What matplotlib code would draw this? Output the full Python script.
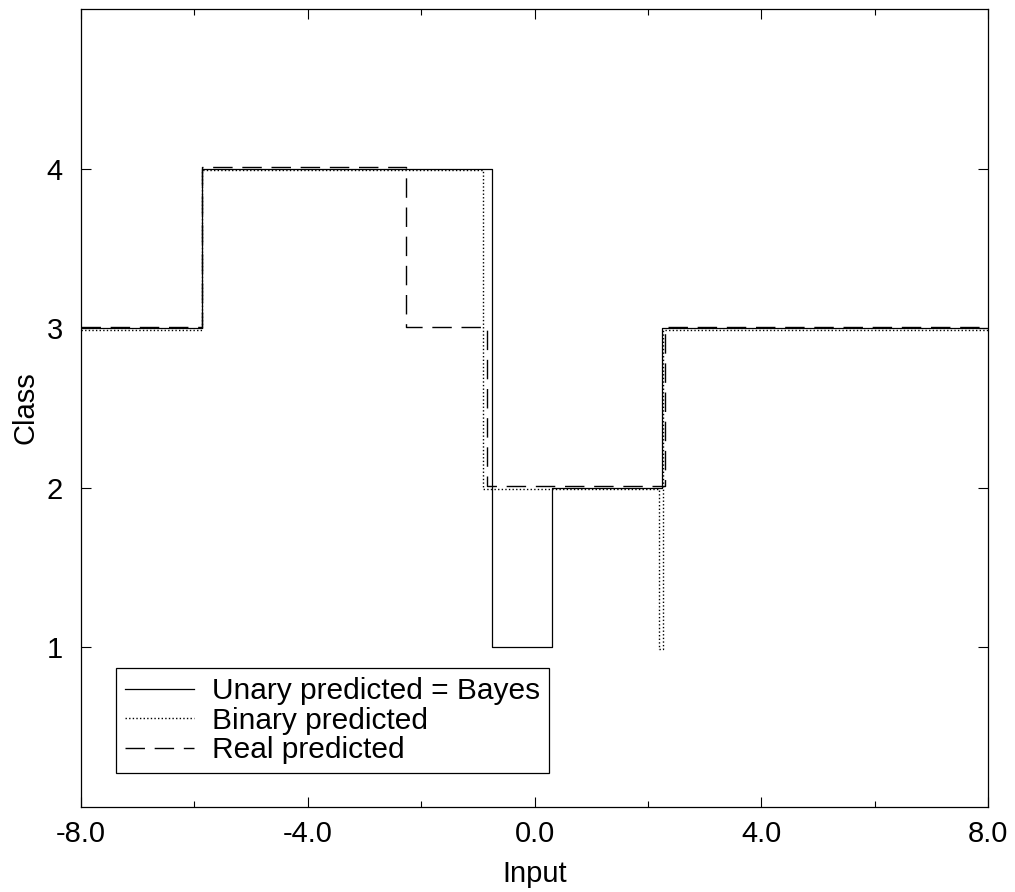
import matplotlib
matplotlib.use("Agg")
from matplotlib import pyplot as plt
from matplotlib.ticker import MultipleLocator, FormatStrFormatter

plt.rcParams['font.family'] = ['Liberation Sans', 'DejaVu Sans']

# breakpoints (left edge of each step) and class level
unary_x = [-8.0, -5.86, -0.75, 0.30, 2.25, 8.0]
unary_class = [3.0, 4.0, 1.0, 2.0, 3.0, 3.0]

binary_x = [-8.0, -5.86, -0.91, 2.20, 2.26, 8.0]
binary_class = [2.99, 3.99, 1.99, 0.99, 2.99, 2.99]

real_x = [-8.0, -5.86, -2.27, -0.83, 2.31, 8.0]
real_class = [3.01, 4.01, 3.01, 2.01, 3.01, 3.01]

xticks = [-8.0, -4.0, 0.0, 4.0, 8.0]
yticks = [1, 2, 3, 4]

fig = plt.figure(figsize=(10.15, 8.92), dpi=100)
ax = fig.add_axes([81/1015, 1 - 807/892, (988-81)/1015, (807-9)/892])

ax.step(unary_x, unary_class, where='post', color='black', lw=0.9,
        label='Unary predicted = Bayes')
ax.step(binary_x, binary_class, where='post', color='black', lw=1.0,
        linestyle=(0, (1, 1.6)), label='Binary predicted')
ax.step(real_x, real_class, where='post', color='black', lw=1.0,
        linestyle=(0, (14, 7)), label='Real predicted')

ax.set_xlim(-8, 8)
ax.set_ylim(0, 5)
ax.set_xticks(xticks)
ax.set_yticks(yticks)
ax.xaxis.set_minor_locator(MultipleLocator(2))
ax.xaxis.set_major_formatter(FormatStrFormatter('%.1f'))
ax.tick_params(which='both', direction='in', top=True, right=True, labelsize=21)
ax.tick_params(which='major', length=7, width=0.8)
ax.tick_params(which='minor', length=4, width=0.8)
ax.tick_params(axis='x', pad=9)
ax.tick_params(axis='y', pad=13)
for s in ax.spines.values():
    s.set_linewidth(0.9)

ax.set_xlabel('Input', fontsize=21, labelpad=9)
ax.set_ylabel('Class', fontsize=21, labelpad=5)

leg = ax.legend(loc='lower left', bbox_to_anchor=(0.0386, 0.0426),
                borderaxespad=0, fontsize=21.5, fancybox=False, framealpha=1,
                edgecolor='black', handlelength=2.3, handletextpad=0.6,
                labelspacing=0.05, borderpad=0.3)
leg.get_frame().set_linewidth(0.9)

fig.savefig('out.png', dpi=100)
